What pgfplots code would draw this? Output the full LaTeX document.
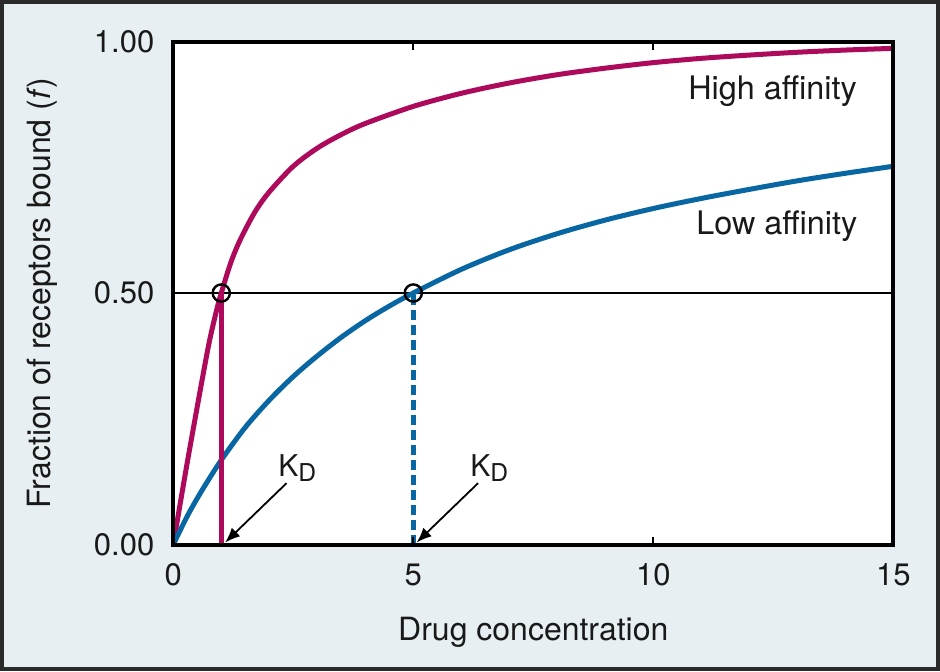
\documentclass[border=0pt]{standalone}
\usepackage{fontspec}
\setmainfont{TeX Gyre Heros}
\usepackage{pgfplots}
\pgfplotsset{compat=1.18}
\usetikzlibrary{arrows.meta}
\definecolor{bgc}{HTML}{E7EFF3}
\definecolor{mag}{HTML}{AD0A5C}
\definecolor{blu}{HTML}{0867A3}
\definecolor{frm}{HTML}{2A2A2A}
\begin{document}
\begin{tikzpicture}
\fill[bgc] (0,0) rectangle (470pt,335.5pt);
\draw[frm, line width=2pt] (1pt,1pt) rectangle (469pt,334.5pt);
\useasboundingbox (0,0) rectangle (470pt,335.5pt);
\begin{axis}[
  at={(86.65pt,63.25pt)}, anchor=south west,
  scale only axis, width=360pt, height=251.5pt,
  xmin=0, xmax=15, ymin=0, ymax=1,
  axis on top,
  axis line style={line width=2pt, black},
  axis background/.style={fill=white},
  xtick={0,5,10,15}, xticklabels={0,5,10,15},
  ytick={0,0.5,1}, yticklabels={0.00,0.50,1.00},
  tick align=inside, major tick length=4pt,
  tick style={line width=1pt, black},
  ytick style={draw=none},
  ticklabel style={font=\fontsize{15.5}{18}\selectfont, text=black!90},
  xticklabel style={yshift=-6pt},
  yticklabel style={xshift=-6pt},
  xlabel={Drug concentration},
  ylabel={Fraction of receptors bound (\textit{f})},
  xlabel style={at={(axis description cs:0.5,-0.174)}, anchor=center, font=\fontsize{16}{19}\selectfont, text=black!90},
  ylabel style={at={(axis description cs:-0.182,0.5)}, anchor=center, font=\fontsize{16}{19}\selectfont, text=black!90},
  clip=true,
]
% half-saturation line
\addplot[black, line width=1.2pt] coordinates {(0,0.5) (15,0.5)};
% high affinity
\addplot[mag, line width=2.5pt, smooth] coordinates {
(0,0) (0.15,0.085) (0.3,0.168) (0.45,0.248) (0.6,0.327) (0.75,0.403) (0.9,0.465)
(1.0,0.5) (1.2,0.561) (1.4,0.607) (1.7,0.661) (2.0,0.701) (2.5,0.752) (3.0,0.788)
(3.5,0.815) (4.0,0.837) (5.0,0.871) (6.0,0.897) (7.0,0.9175) (8.0,0.934) (9.0,0.947)
(10,0.958) (11,0.9665) (12,0.973) (13,0.9786) (14,0.983) (15,0.9864)};
% low affinity
\addplot[blu, line width=2.5pt, smooth] coordinates {
(0,0) (0.3,0.058) (0.6,0.108) (1.0,0.168) (1.5,0.233) (2.0,0.287) (2.5,0.334)
(3.0,0.375) (3.5,0.412) (4.0,0.445) (4.5,0.474) (5.0,0.5) (6.0,0.547) (7.0,0.586)
(8.0,0.618) (9.0,0.645) (10,0.668) (11,0.688) (12,0.706) (13,0.723) (14,0.738) (15,0.752)};
% KD drop lines
\addplot[mag, line width=2.5pt] coordinates {(1,0) (1,0.5)};
\addplot[blu, line width=2.5pt, dash pattern=on 5pt off 2.5pt] coordinates {(5,0) (5,0.5)};
% circles
\addplot[only marks, mark=o, mark size=4.3pt, mark options={line width=1.2pt, black}] coordinates {(1,0.5) (5,0.5)};
% labels
\node[anchor=base east, inner sep=0, font=\fontsize{16.2}{19}\selectfont, text=black!90] at (axis cs:14.25,0.884) {High affinity};
\node[anchor=base east, inner sep=0, font=\fontsize{16.2}{19}\selectfont, text=black!90] at (axis cs:14.26,0.617) {Low affinity};
\node[anchor=base west, inner sep=0, font=\fontsize{15}{17}\selectfont, text=black!90] at (axis cs:2.18,0.135) {K\raisebox{-2.5pt}{\fontsize{12.3}{13}\selectfont D}};
\node[anchor=base west, inner sep=0, font=\fontsize{15}{17}\selectfont, text=black!90] at (axis cs:6.18,0.135) {K\raisebox{-2.5pt}{\fontsize{12.3}{13}\selectfont D}};
\draw[black, line width=0.9pt, -{Latex[length=7.5pt,width=6pt]}] (axis cs:2.36,0.122) -- (axis cs:1.08,0.004);
\draw[black, line width=0.9pt, -{Latex[length=7.5pt,width=6pt]}] (axis cs:6.35,0.122) -- (axis cs:5.07,0.004);
\end{axis}
\end{tikzpicture}
\end{document}
